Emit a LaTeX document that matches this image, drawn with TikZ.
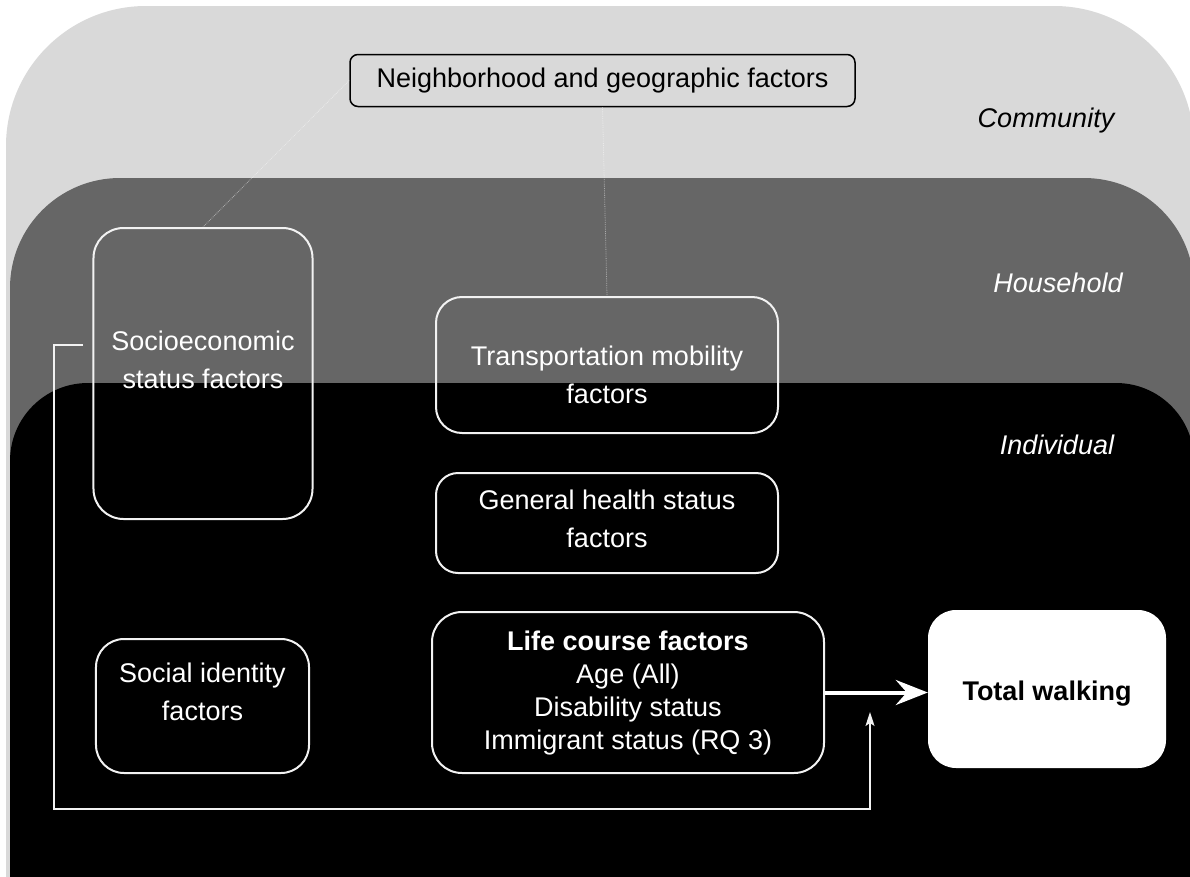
\documentclass[tikz,border=0pt]{standalone}
\usepackage{fontspec}
\setmainfont{Liberation Sans}
\usetikzlibrary{arrows.meta,calc}
\definecolor{community}{HTML}{D9D9D9}
\definecolor{household}{HTML}{666666}
\definecolor{individual}{HTML}{000000}
\definecolor{outline}{HTML}{F2F2F2}

\begin{document}
\begin{tikzpicture}[x=1bp,y=-1bp,
  txt/.style={font=\fontsize{27bp}{38bp}\selectfont, align=center, inner sep=0pt},
  box/.style={draw=outline, line width=2bp, rounded corners=#1, inner sep=0pt},
  level/.style={font=\fontsize{27bp}{32bp}\selectfont\itshape, inner sep=0pt},
  faint/.style={white, opacity=0.45, line width=0.8bp, densely dotted},
  flow/.style={white, line width=4bp, -{Stealth[length=32bp,width=25bp,inset=11bp]}},
  feed/.style={white!95!black, line width=1.6bp, -{Stealth[length=14bp,width=9bp,inset=3bp]}}
]
\useasboundingbox (0,0) rectangle (1190,877);

% nested levels: community, household, individual
\begin{scope}
  \clip (0,0) rectangle (1190,877);
  \fill[community, rounded corners=140bp] (6,6) rectangle (1194,1100);
  \fill[household, rounded corners=110bp] (10,178) rectangle (1194,1100);
  \fill[individual, rounded corners=78bp] (10,383) rectangle (1194,1100);
\end{scope}

% level names
\node[level, black] at (1046,121) {Community};
\node[level, white] at (1058,283) {Household};
\node[level, white] at (1057,445) {Individual};

% factor boxes
\node[draw=black, line width=1.5bp, rounded corners=8bp, inner sep=0pt,
      minimum width=505bp, minimum height=52bp, txt] (neigh) at (602.5,80.5)
      {Neighborhood and geographic factors};
\node[box=30bp, minimum width=219bp, minimum height=291bp] (socio) at (203,373.5) {};
\node[box=26bp, minimum width=342bp, minimum height=136bp] (transport) at (607,365) {};
\node[box=22bp, minimum width=342bp, minimum height=100bp] (health) at (607,523) {};
\node[box=28bp, minimum width=213bp, minimum height=134bp] (social) at (202.5,706) {};
\node[box=30bp, minimum width=392bp, minimum height=161bp] (life) at (628,692.5) {};
\node[fill=white, rounded corners=28bp, inner sep=0pt,
      minimum width=238bp, minimum height=158bp] (walk) at (1047,689) {};

% faint links from the community level
\draw[faint] (neigh.west) -- (socio.north);
\draw[faint] (neigh.south) -- (transport.north);

% box texts
\node[txt, white] at (203,360) {Socioeconomic\\status factors};
\node[txt, white] at (607,375) {Transportation mobility\\factors};
\node[txt, white] at (607,518.5) {General health status\\factors};
\node[txt, white] at (202.5,692) {Social identity\\factors};
\node[txt, white, font=\fontsize{27bp}{33bp}\selectfont] at (628,693)
  {\textbf{Life course factors}\\Age (All)\\Disability status\\Immigrant status (RQ 3)};
\node[txt, black, font=\fontsize{27bp}{33bp}\selectfont\bfseries] at ($(walk.center)+(0,5)$) {Total walking};

% connectors
\draw[flow] (life.east) -- (life.east -| walk.west);
\coordinate (sesfrom) at (83,345);
\coordinate (sesto) at (870,712);
\draw[feed] (sesfrom) -- (54,345) -- (54,809) -- (870,809) -- (sesto);
\end{tikzpicture}
\end{document}
